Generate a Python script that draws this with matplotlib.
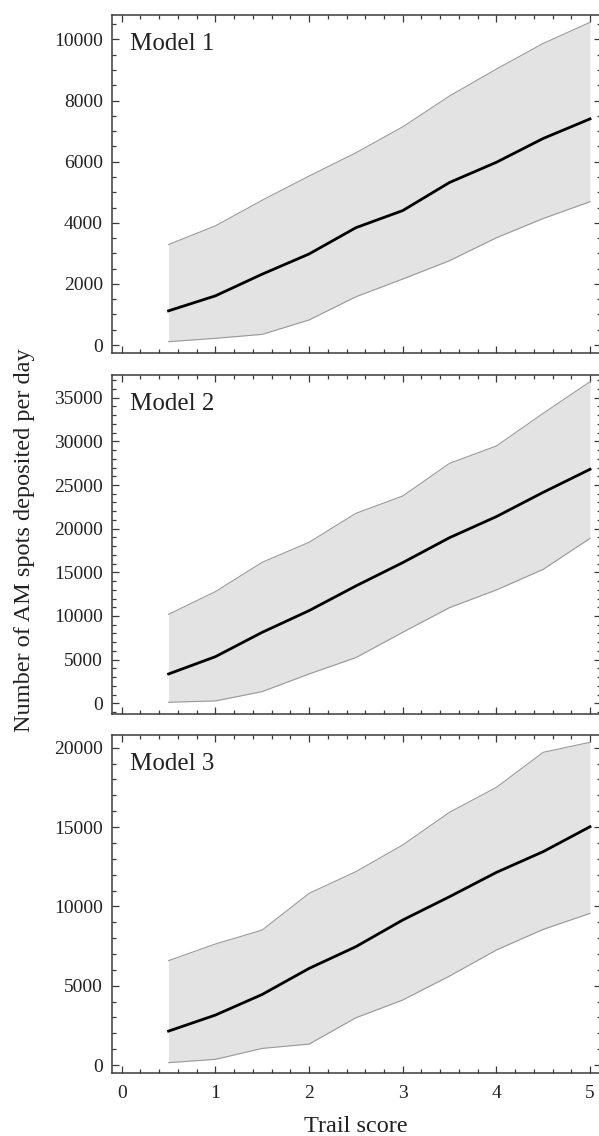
import numpy as np
import matplotlib
matplotlib.use("Agg")
import matplotlib.pyplot as plt
from matplotlib.ticker import MultipleLocator

# Trail score values (x axis)
trail_score = [0.5, 1.0, 1.5, 2.0, 2.5, 3.0, 3.5, 4.0, 4.5, 5.0]

# Model 1
m1_mean = [1120, 1610, 2320, 2980, 3840, 4400, 5320, 5980, 6760, 7400]
m1_upper = [3290, 3900, 4740, 5530, 6290, 7140, 8150, 9030, 9870, 10560]
m1_lower = [110, 220, 350, 820, 1580, 2160, 2760, 3510, 4140, 4690]

# Model 2
m2_mean = [3360, 5340, 8130, 10610, 13440, 16110, 18970, 21380, 24160, 26800]
m2_upper = [10190, 12790, 16150, 18440, 21760, 23740, 27480, 29470, 33210, 36830]
m2_lower = [120, 270, 1340, 3360, 5230, 8130, 10960, 12980, 15340, 18890]

# Model 3
m3_mean = [2140, 3150, 4450, 6090, 7460, 9140, 10610, 12140, 13450, 15020]
m3_upper = [6580, 7630, 8510, 10820, 12190, 13870, 15930, 17500, 19710, 20340]
m3_lower = [150, 360, 1050, 1320, 2980, 4100, 5610, 7250, 8550, 9560]

model_labels = ["Model 1", "Model 2", "Model 3"]
y_limits = [(-260, 10800), (-1225, 37600), (-500, 20800)]
y_major = [2000, 5000, 5000]
y_minor = [500, 1000, 1000]

plt.rcParams["font.family"] = ["Liberation Serif", "DejaVu Serif"]
text_color = "#222222"
spine_color = "#3a3a3a"

W, H = 599, 1136
fig = plt.figure(figsize=(W / 100, H / 100), dpi=100)

# panel pixel extents (top, bottom)
panels_px = [(15, 353), (375, 714), (735, 1073)]
left_px, right_px = 112, 600.5

series = [
    (m1_mean, m1_upper, m1_lower),
    (m2_mean, m2_upper, m2_lower),
    (m3_mean, m3_upper, m3_lower),
]

for i, ((top, bot), (mean, upper, lower)) in enumerate(zip(panels_px, series)):
    ax = fig.add_axes([left_px / W, 1 - bot / H, (right_px - left_px) / W, (bot - top) / H])
    ax.fill_between(trail_score, lower, upper, color="#e3e3e3", linewidth=0)
    ax.plot(trail_score, upper, color="#999999", linewidth=0.8)
    ax.plot(trail_score, lower, color="#999999", linewidth=0.8)
    ax.plot(trail_score, mean, color="black", linewidth=2.0)

    ax.set_xlim(-0.104, 5.112)
    ax.set_ylim(*y_limits[i])
    ax.xaxis.set_major_locator(MultipleLocator(1))
    ax.xaxis.set_minor_locator(MultipleLocator(0.2))
    ax.yaxis.set_major_locator(MultipleLocator(y_major[i]))
    ax.yaxis.set_minor_locator(MultipleLocator(y_minor[i]))

    ax.tick_params(which="both", direction="in", top=True, right=True,
                   color=spine_color, labelcolor=text_color, labelsize=14)
    ax.tick_params(which="major", length=5, width=0.9)
    ax.tick_params(which="minor", length=2.8, width=0.9)
    ax.tick_params(axis="y", pad=6.5)
    ax.tick_params(axis="x", pad=8.5)
    for sp in ax.spines.values():
        sp.set_color(spine_color)
        sp.set_linewidth(1.1)

    if i < 2:
        ax.tick_params(axis="x", labelbottom=False)

    ax.text(0.037, 1 - 35 / (bot - top), model_labels[i], transform=ax.transAxes,
            fontsize=18, color=text_color, ha="left", va="baseline")

fig.text(25 / W, 1 - 540 / H, "Number of AM spots deposited per day",
         rotation=90, ha="center", va="center", fontsize=17.5, color=text_color)
fig.text(356 / W, 1 - 1132 / H, "Trail score", ha="center", va="baseline",
         fontsize=17.5, color=text_color)

fig.savefig("out.png", dpi=100)
